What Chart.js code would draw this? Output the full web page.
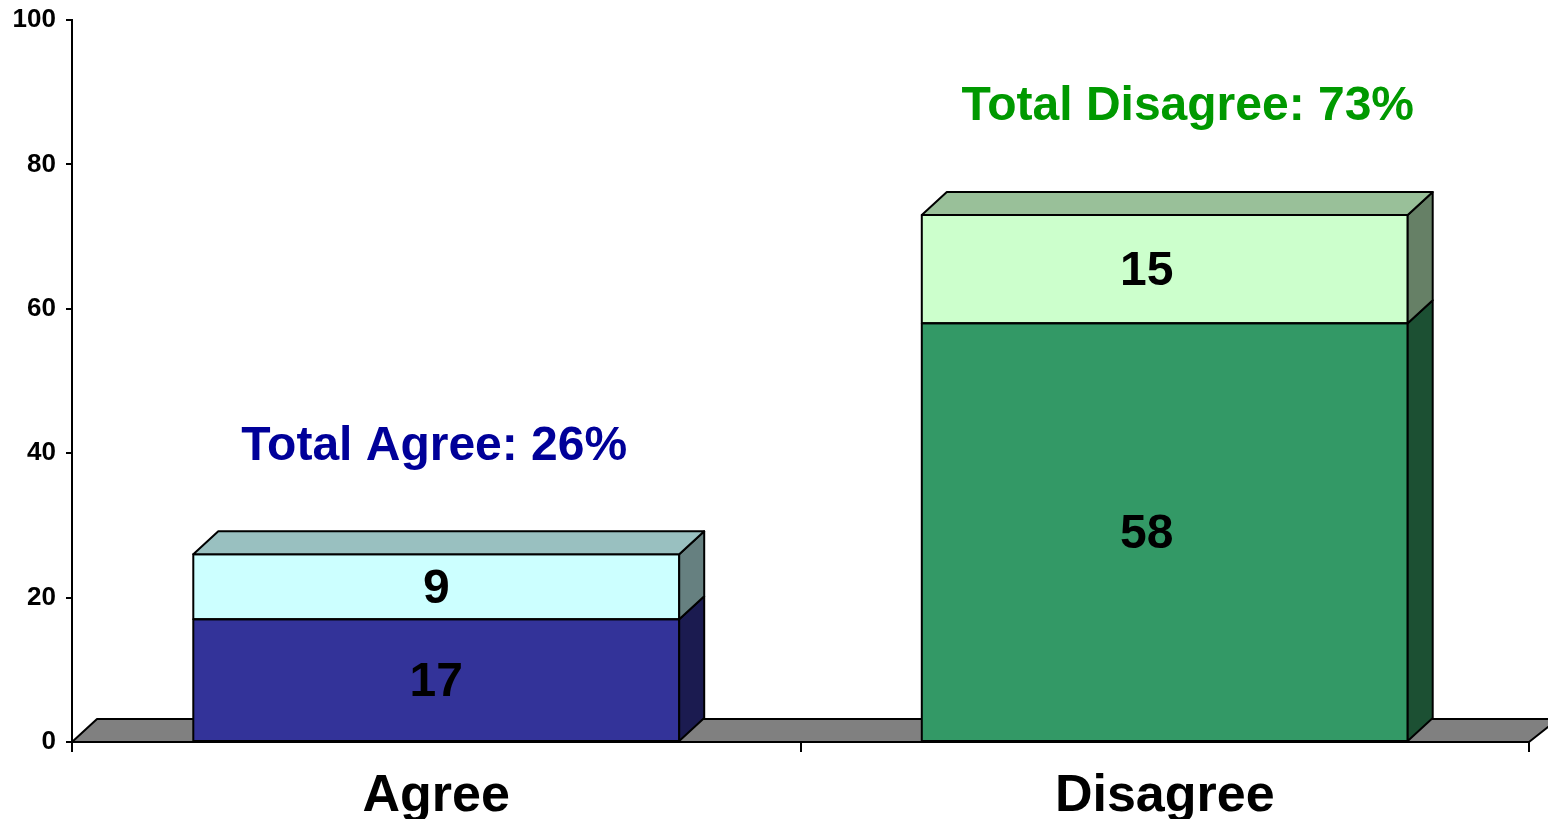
<!DOCTYPE html>
<html>
<head>
<meta charset="utf-8">
<script src="https://cdn.jsdelivr.net/npm/chart.js@4/dist/chart.umd.min.js"></script>
<style>
  body { margin: 0; background: #fff; }
  #wrap { width: 1548px; height: 819px; }
</style>
</head>
<body>
<div id="wrap"><canvas id="barChart" width="1548" height="819"></canvas></div>
<script>
const categories = ['Agree', 'Disagree'];
const strongValues = [17, 58];
const somewhatValues = [9, 15];
const totalTitles = ['Total Agree', 'Total Disagree'];
const yMax = 100;
const yStep = 20;

// colours per bar: front, side
const strongFront = ['#333399', '#339966'];
const strongSide = ['#1b1b50', '#1c5033'];
const softFront = ['#ccffff', '#ccffcc'];
const softSide = ['#668080', '#668066'];
const softTop = ['#99c0c0', '#99c099'];
const titleColors = ['#000099', '#009900'];

const DX = 25, DY = 23;
const FONT = '"Liberation Sans", Arial, sans-serif';

function poly(ctx, pts, fill) {
    ctx.beginPath();
    ctx.moveTo(pts[0][0], pts[0][1]);
    for (let i = 1; i < pts.length; i++) ctx.lineTo(pts[i][0], pts[i][1]);
    ctx.closePath();
    if (fill) {
        ctx.fillStyle = fill;
        ctx.fill();
    }
    ctx.lineWidth = 2;
    ctx.strokeStyle = '#000';
    ctx.lineJoin = 'round';
    ctx.stroke();
}

const box3d = {
    id: 'box3d',
    beforeDatasetsDraw(chart) {
        const ctx = chart.ctx;
        const area = chart.chartArea;
        const y0 = chart.scales.y.getPixelForValue(0);
        ctx.save();
        poly(ctx, [[area.left, y0], [area.left + DX, y0 - DY], [chart.width + 10, y0 - DY], [area.right, y0]], '#808080');
        ctx.restore();
    },
    afterDatasetsDraw(chart, args, opts) {
        const ctx = chart.ctx;
        const sides = [strongSide, softSide];
        ctx.save();
        chart.data.datasets.forEach((ds, di) => {
            chart.getDatasetMeta(di).data.forEach((bar, i) => {
                const p = bar.getProps(['x', 'y', 'base', 'width'], true);
                const right = p.x + p.width / 2;
                const left = p.x - p.width / 2;
                poly(ctx, [[left, p.base], [left, p.y], [right, p.y], [right, p.base]], null);
                poly(ctx, [[right, p.base], [right + DX, p.base - DY], [right + DX, p.y - DY], [right, p.y]], sides[di][i]);
                if (di === chart.data.datasets.length - 1) {
                    poly(ctx, [[left, p.y], [left + DX, p.y - DY], [right + DX, p.y - DY], [right, p.y]], softTop[i]);
                }
            });
        });
        // value labels
        ctx.font = 'bold 48px ' + FONT;
        ctx.textAlign = 'center';
        ctx.textBaseline = 'middle';
        ctx.fillStyle = '#000';
        chart.data.datasets.forEach((ds, di) => {
            chart.getDatasetMeta(di).data.forEach((bar, i) => {
                const p = bar.getProps(['x', 'y', 'base'], true);
                ctx.fillText(String(ds.data[i]), p.x + opts.labelShift[i], (p.y + p.base) / 2 + 3);
            });
        });
        // totals
        const y = chart.scales.y;
        chart.getDatasetMeta(0).data.forEach((bar, i) => {
            const total = strongValues[i] + somewhatValues[i];
            ctx.fillStyle = titleColors[i];
            ctx.fillText(totalTitles[i] + ': ' + total + '%', bar.x + opts.titleShift[i], y.getPixelForValue(total) - 108);
        });
        ctx.restore();
    }
};

const ctx = document.getElementById('barChart').getContext('2d');
new Chart(ctx, {
    type: 'bar',
    data: {
        labels: categories,
        datasets: [{
            label: 'Strongly',
            data: strongValues,
            backgroundColor: strongFront,
            borderWidth: 0,
            categoryPercentage: 1,
            barPercentage: 0.667
        }, {
            label: 'Somewhat',
            data: somewhatValues,
            backgroundColor: softFront,
            borderWidth: 0,
            categoryPercentage: 1,
            barPercentage: 0.667
        }]
    },
    plugins: [box3d],
    options: {
        responsive: false,
        animation: false,
        devicePixelRatio: 1,
        layout: { padding: { top: 0, right: 19, left: 0, bottom: 0 } },
        plugins: {
            legend: { display: false },
            tooltip: { enabled: false },
            box3d: { labelShift: [0, -18], titleShift: [-2, 23] }
        },
        scales: {
            x: {
                stacked: true,
                afterFit(scale) { scale.height = 77; },
                grid: { drawOnChartArea: false, tickLength: 10, color: '#000', lineWidth: 2, offset: true },
                border: { display: true, color: '#000', width: 2 },
                ticks: { color: '#000', padding: 13, font: { family: FONT, size: 52, weight: 'bold' } }
            },
            y: {
                stacked: true,
                min: 0,
                max: yMax,
                afterFit(scale) { scale.width = 72; scale.paddingTop = 20; },
                grid: { drawOnChartArea: false, tickLength: 6, color: '#000', lineWidth: 2 },
                border: { display: true, color: '#000', width: 2 },
                ticks: { stepSize: yStep, color: '#000', padding: 10, font: { family: FONT, size: 26, weight: 'bold' } }
            }
        }
    }
});
</script>
</body>
</html>
